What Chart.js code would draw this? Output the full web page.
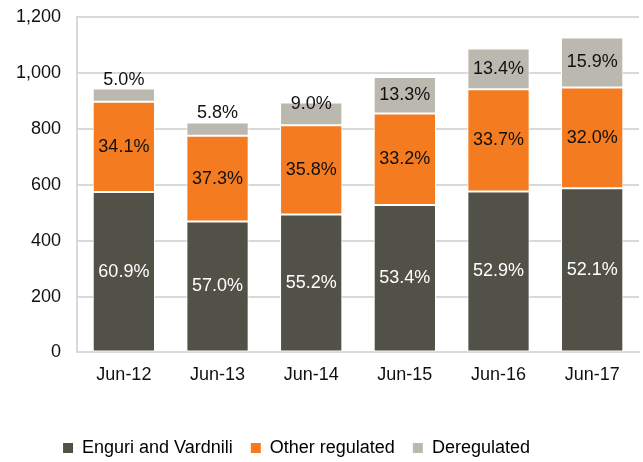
<!DOCTYPE html>
<html>
<head>
<meta charset="utf-8">
<script src="https://cdn.jsdelivr.net/npm/chart.js@4"></script>
<style>
html,body{margin:0;padding:0;background:#fff;}
#wrap{width:643px;height:462px;position:relative;}
</style>
</head>
<body>
<div id="wrap"><canvas id="c" width="643" height="462"></canvas></div>
<script>
const categories = ["Jun-12","Jun-13","Jun-14","Jun-15","Jun-16","Jun-17"];
const enguri = [575, 469, 494, 528, 576, 588];
const otherRegulated = [323, 307, 320, 328, 367, 361];
const deregulated = [47, 48, 81, 131, 146, 179];
const enguriPct = ["60.9%","57.0%","55.2%","53.4%","52.9%","52.1%"];
const otherPct = ["34.1%","37.3%","35.8%","33.2%","33.7%","32.0%"];
const deregPct = ["5.0%","5.8%","9.0%","13.3%","13.4%","15.9%"];
const yTicks = [0,200,400,600,800,1000,1200];

const FONT = "'Liberation Sans', Arial, sans-serif";

const labelPlugin = {
  id: 'segLabels',
  afterDatasetsDraw(chart) {
    const ctx = chart.ctx;
    const labelsets = [enguriPct, otherPct, deregPct];
    const colors = ['#ffffff', '#111111', '#111111'];
    ctx.save();
    ctx.font = '18px ' + FONT;
    ctx.textAlign = 'center';
    ctx.textBaseline = 'middle';
    chart.data.datasets.forEach((ds, di) => {
      const meta = chart.getDatasetMeta(di);
      meta.data.forEach((bar, i) => {
        const top = Math.min(bar.y, bar.base);
        const h = Math.abs(bar.base - bar.y);
        let y = top + h / 2;
        if (di === 2) {
          if (h < 16) y = top - 9;
          else if (h < 30) y = top + 1;
        }
        ctx.fillStyle = colors[di];
        ctx.fillText(labelsets[di][i], bar.x, y);
      });
    });
    ctx.restore();
  }
};

new Chart(document.getElementById('c'), {
  type: 'bar',
  data: {
    labels: categories,
    datasets: [
      { label: 'Enguri and Vardnili', data: enguri, backgroundColor: '#525148', borderColor: '#ffffff', borderWidth: 1, borderSkipped: false },
      { label: 'Other regulated', data: otherRegulated, backgroundColor: '#F47B20', borderColor: '#ffffff', borderWidth: 1, borderSkipped: false },
      { label: 'Deregulated', data: deregulated, backgroundColor: '#BAB8AF', borderColor: '#ffffff', borderWidth: 1, borderSkipped: false }
    ]
  },
  options: {
    responsive: false,
    animation: false,
    layout: { padding: { left: 0, right: 4, top: 0, bottom: 0 } },
    datasets: { bar: { categoryPercentage: 1.0, barPercentage: 0.665 } },
    plugins: {
      legend: {
        position: 'bottom',
        labels: {
          font: { family: FONT, size: 18 },
          color: '#111',
          boxWidth: 10,
          boxHeight: 10,
          padding: 18,
          generateLabels(chart) {
            return chart.data.datasets.map((d, i) => ({
              text: d.label, fillStyle: d.backgroundColor, strokeStyle: d.backgroundColor,
              lineWidth: 0, hidden: false, datasetIndex: i
            }));
          }
        }
      },
      tooltip: { enabled: false }
    },
    scales: {
      x: {
        stacked: true,
        grid: { display: false },
        border: { display: true, color: '#D9D9D9', width: 2 },
        ticks: { font: { family: FONT, size: 18 }, color: '#111', padding: 4 },
        afterFit(scale) { scale.height += 31; }
      },
      y: {
        stacked: true,
        min: 0, max: 1200,
        afterBuildTicks(axis) { axis.ticks = yTicks.map(v => ({ value: v })); },
        grid: { color: '#D9D9D9', lineWidth: 2, drawTicks: false },
        border: { display: true, color: '#D9D9D9', width: 2 },
        ticks: {
          font: { family: FONT, size: 18, lineHeight: 0.16 }, color: '#111', padding: 16,
          callback: v => v.toLocaleString('en-US')
        }
      }
    }
  },
  plugins: [labelPlugin, {
    id: 'legendShift',
    beforeInit(chart) {
      const lg = chart.legend;
      const fit = lg.fit;
      lg.fit = function() { fit.call(this); this.height -= 5; };
    },
    afterLayout(chart) {
      chart.legend.right -= 46;
    }
  }]
});
</script>
</body>
</html>
